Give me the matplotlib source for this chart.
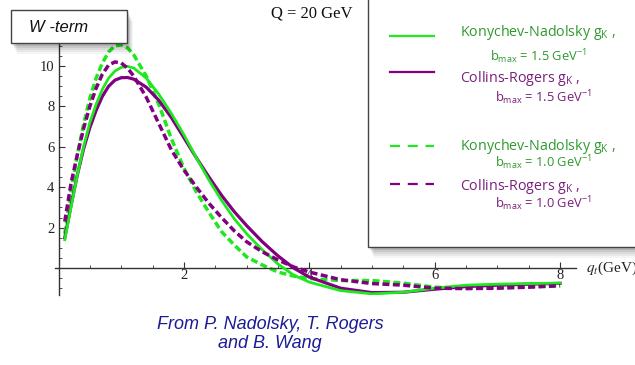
import matplotlib
matplotlib.use("Agg")
import matplotlib.pyplot as plt
from matplotlib.patches import Rectangle
from matplotlib.lines import Line2D
from matplotlib.ticker import MultipleLocator

plt.rcParams['mathtext.default'] = 'regular'

# ---- data ----
q = [0.1, 0.2, 0.3, 0.4, 0.5, 0.6, 0.7, 0.8, 0.9, 1.0, 1.1, 1.2, 1.4, 1.6, 1.8,
     2.0, 2.2, 2.4, 2.6, 2.8, 3.0, 3.25, 3.5, 3.75, 4.0, 4.5, 5.0, 5.5, 6.0,
     6.5, 7.0, 7.5, 8.0]
kn_15 = [1.4, 3.0, 4.6, 6.0, 7.2, 8.1, 8.85, 9.4, 9.75, 9.93, 9.98, 9.9, 9.4,
         8.6, 7.65, 6.6, 5.45, 4.35, 3.35, 2.45, 1.7, 0.9, 0.2, -0.35, -0.7,
         -1.12, -1.28, -1.2, -1.0, -0.85, -0.8, -0.77, -0.75]
cr_15 = [1.5, 3.1, 4.6, 5.9, 6.95, 7.8, 8.5, 9.0, 9.3, 9.42, 9.43, 9.35, 8.95,
         8.3, 7.45, 6.45, 5.45, 4.5, 3.6, 2.8, 2.1, 1.3, 0.6, 0.0, -0.45,
         -1.0, -1.22, -1.2, -1.05, -0.92, -0.85, -0.8, -0.76]
kn_10 = [1.7, 3.8, 5.6, 7.1, 8.4, 9.4, 10.15, 10.7, 11.0, 11.05, 10.9, 10.55,
         9.5, 8.1, 6.4, 4.95, 3.75, 2.75, 1.8, 1.15, 0.55, 0.15, -0.2, -0.4,
         -0.52, -0.62, -0.62, -0.75, -0.95, -1.0, -0.98, -0.93, -0.87]
cr_10 = [2.3, 4.2, 5.6, 6.9, 8.0, 8.9, 9.6, 10.05, 10.2, 10.15, 9.9, 9.5, 8.45,
         7.15, 5.85, 4.85, 4.0, 3.2, 2.5, 1.85, 1.3, 0.8, 0.4, 0.05, -0.2,
         -0.58, -0.77, -0.85, -1.0, -1.02, -1.0, -0.95, -0.88]

x_ticks = [2, 4, 6, 8]
y_ticks = [2, 4, 6, 8, 10]
legend_names = ["Konychev-Nadolsky g$_K$ ,", "Collins-Rogers g$_K$ ,",
                "Konychev-Nadolsky g$_K$ ,", "Collins-Rogers g$_K$ ,"]
legend_bmax = ["b$_{max}$ = 1.5 GeV$^{-1}$", "b$_{max}$ = 1.5 GeV$^{-1}$",
               "b$_{max}$ = 1.0 GeV$^{-1}$", "b$_{max}$ = 1.0 GeV$^{-1}$"]

GREEN = '#1ee81e'
PURPLE = '#800080'
GTEXT = '#2e9a2e'
PTEXT = '#7a1f7a'
SERIF = 'Liberation Serif'

W, H = 635, 365
fig = plt.figure(figsize=(W / 100, H / 100), dpi=100)

def fx(x):
    return x / W

def fy(y):
    return 1 - y / H

# axes placement
xmin, xmax = -0.06, 8.25
ymin, ymax = -1.35, 11.3
pxu, pyu = 62.7, 20.2
x0px, y0px = 58.5, 268
left = x0px + xmin * pxu
right = x0px + xmax * pxu
top = y0px - ymax * pyu
bottom = y0px - ymin * pyu
ax = fig.add_axes([fx(left), fy(bottom), (right - left) / W, (bottom - top) / H])
ax.set_xlim(xmin, xmax)
ax.set_ylim(ymin, ymax)
ax.patch.set_alpha(0)
for s in ['top', 'right']:
    ax.spines[s].set_visible(False)
ax.spines['left'].set_position(('data', 0))
ax.spines['bottom'].set_position(('data', 0))
for s in ['left', 'bottom']:
    ax.spines[s].set_color('#333333')
    ax.spines[s].set_linewidth(1.0)

ax.set_xticks(x_ticks)
ax.set_yticks(y_ticks)
ax.xaxis.set_minor_locator(MultipleLocator(0.5))
ax.yaxis.set_minor_locator(MultipleLocator(0.5))
ax.tick_params(which='major', direction='in', length=4, width=0.8, color='#333333',
               pad=3)
ax.tick_params(which='minor', direction='in', length=2.2, width=0.6, color='#333333')
for lab in ax.get_xticklabels() + ax.get_yticklabels():
    lab.set_family(SERIF)
    lab.set_fontsize(10.5)
    lab.set_color('#222222')
ax.tick_params(axis='x', pad=1)

dash = (0, (2.0, 1.0))
ax.plot(q, kn_10, color=GREEN, lw=2.5, ls=dash, zorder=2)
ax.plot(q, cr_15, color=PURPLE, lw=2.3, zorder=3)
ax.plot(q, kn_15, color=GREEN, lw=2.0, zorder=3)
ax.plot(q, cr_10, color=PURPLE, lw=2.5, ls=dash, zorder=4)

# x label (cut off at the right edge, as in the reference)
fig.text(fx(586), fy(268), r'$\mathit{q_t}$(GeV)', family=SERIF, fontsize=11,
         va='center', ha='left', color='#222222', math_fontfamily='stix')

# Title
fig.text(fx(312), fy(13), 'Q = 20 GeV', family=SERIF, fontsize=12,
         ha='center', va='center', color='#111111')

# shadow helper
def shadow_box(x1, y1, x2, y2, z=5):
    for i, a in enumerate([0.04, 0.05, 0.06, 0.08, 0.10]):
        off = 11 - 2 * i
        fig.add_artist(Rectangle((fx(x1 + off * 0.5), fy(y2 + off)),
                                 (x2 - x1) / W, (y2 - y1) / H,
                                 transform=fig.transFigure, facecolor='black',
                                 edgecolor='none', alpha=a, zorder=z))
    fig.add_artist(Rectangle((fx(x1), fy(y2)), (x2 - x1) / W, (y2 - y1) / H,
                             transform=fig.transFigure, facecolor='white',
                             edgecolor='#444444', lw=1.0, zorder=z + 1))

# W-term box
shadow_box(11, 10, 127, 43)
fig.text(fx(29), fy(27), 'W -term', family='Liberation Sans', style='italic',
         fontsize=12, ha='left', va='center', color='#111111', zorder=10)

# Legend box
shadow_box(368, -5, 645, 247)
line_ys = [36, 72, 146, 184]
name_ys = [33, 78, 146, 186]
bmax_ys = [57, 98, 163, 204]
bmax_xs = [490, 495, 495, 495]
colors = [GREEN, PURPLE, GREEN, PURPLE]
tcolors = [GTEXT, PTEXT, GTEXT, PTEXT]
styles = ['-', '-', (0, (4.5, 3.5)), (0, (4.5, 3.5))]
for i in range(4):
    fig.add_artist(Line2D([fx(390), fx(434)], [fy(line_ys[i])] * 2,
                          transform=fig.transFigure, color=colors[i], lw=1.6,
                          ls=styles[i], zorder=10))
    fig.text(fx(460), fy(name_ys[i]), legend_names[i], family='Open Sans',
             fontsize=10.3, color=tcolors[i], ha='left', va='center', zorder=10)
    fig.text(fx(bmax_xs[i]), fy(bmax_ys[i]), legend_bmax[i], family='Open Sans',
             fontsize=9.3, color=tcolors[i], ha='left', va='center', zorder=10)

# citation
fig.text(fx(270), fy(334), 'From P. Nadolsky, T. Rogers\nand B. Wang',
         family='Liberation Sans', style='italic', fontsize=13,
         color='#1c1c96', ha='center', va='center', multialignment='center',
         linespacing=1.2)

fig.savefig('out.png', dpi=100)
